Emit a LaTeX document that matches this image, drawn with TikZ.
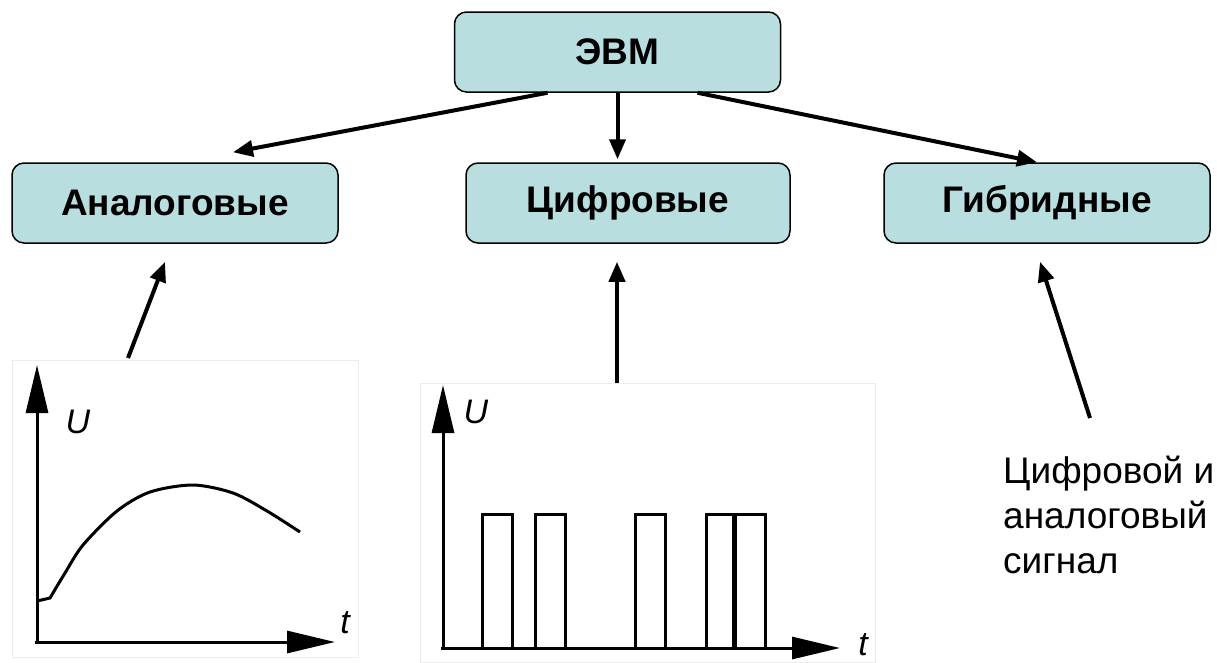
\documentclass[tikz,border=0pt]{standalone}
\usepackage{fontspec}
\setmainfont{Liberation Sans}
\usetikzlibrary{arrows.meta,positioning}
\definecolor{boxfill}{RGB}{185,222,224}

\begin{document}
\begin{tikzpicture}[x=1pt, y=-1pt,
        cls/.style={rectangle, rounded corners=12pt, draw, line width=1.5pt, fill=boxfill, minimum width=326pt, minimum height=80pt, font=\fontsize{37}{44}\selectfont\bfseries},
        link/.style={line width=4pt, -{Triangle[length=20pt,width=16pt]}},
        axis/.style={line width=3pt, -{Triangle[length=48pt,width=22pt]}},
        sig/.style={line width=3pt},
        lbl/.style={inner sep=0pt, font=\fontsize{34}{34}\selectfont\itshape}]

                \useasboundingbox (0,0) rectangle (1217,662);

                \node[cls] (evm) at (617.5,52) {ЭВМ};
                \node[cls] (analog) at (175,203) {Аналоговые};
                \node[cls, minimum width=324pt] (digit) at (628,203) {Цифровые};
                \node[cls] (hybrid) at (1047,203) {Гибридные};

                \draw[gray!15, fill=white] (12,360) rectangle (358,657);
                \draw[axis] (37,643) -- (37,365);
                \draw[axis] (35,642) -- (335,642);
                \node[lbl] (au) at (78,422) {U};
                \node[lbl] (at) at (345,623) {t};
                \draw[sig] (37,601) -- plot[smooth, tension=0.5] coordinates {(50,598) (65,573) (83,545) (117,511) (150,492) (193,485) (233,493) (267,511) (300,532)};

                \draw[gray!15, fill=white] (420,383) rectangle (875,662);
                \draw[axis] (443,650) -- (443,385);
                \draw[axis] (441,648) -- (840,648);
                \node[lbl] (du) at (476,412) {U};
                \node[lbl] (dt) at (863,645) {t};
                \foreach \a/\b in {482/512, 535/565, 635/665, 706/733, 735/765}
                    \draw[sig] (\a,648) -- (\a,514) -- (\b,514) -- (\b,648);

                \node[align=left, inner sep=0pt, anchor=north west, font=\fontsize{37}{45}\selectfont] (hsigtext) at (1003,456) {Цифровой и\\аналоговый\\сигнал};

                \coordinate (asig) at (128,358);
                \coordinate (dsig) at (617,383);
                \coordinate (hsig) at (1090,418);

                \draw[link] ([xshift=-70pt]evm.south) -- ([xshift=58pt,yshift=10pt]analog.north);
                \draw[link, shorten >=3pt] (evm.south) -- (evm.south |- digit.north);
                \draw[link] ([xshift=80pt]evm.south) -- ([xshift=-10pt]hybrid.north);

                \draw[link] (asig) -- ([xshift=-10pt,yshift=-18pt]analog.south);
                \draw[link, shorten >=18pt] (dsig) -- (dsig |- digit.south);
                \draw[link] (hsig) -- ([xshift=-7pt,yshift=-18pt]hybrid.south);

\end{tikzpicture}
\end{document}
